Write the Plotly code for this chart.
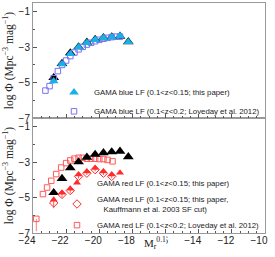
import plotly.graph_objects as go

# ---- data ----
mag_gama = [-22.75, -22.25, -21.75, -21.25, -20.75, -20.25, -19.75, -19.25, -18.75, -18.25]
phi_all = [-4.72, -3.92, -3.32, -2.98, -2.72, -2.56, -2.47, -2.42, -2.38, -2.69]
err_all = [0.12, 0.06, 0.05, 0.04, 0.04, 0.04, 0.04, 0.04, 0.05, 0.12]
phi_blue = [-4.92, -3.96, -3.38, -3.00, -2.75, -2.58, -2.48, -2.43, -2.37, -2.70]
err_blue = [0.15, 0.07, 0.05, 0.04, 0.04, 0.04, 0.04, 0.04, 0.05, 0.12]

mag_red = [-22.75, -22.25, -21.75, -21.25, -20.75, -20.25, -19.75, -19.25, -18.75]
phi_red = [-5.12, -4.72, -4.50, -3.70, -3.52, -3.33, -3.52, -3.70, -3.60]
mag_red_k03 = [-22.75, -22.25, -21.75, -21.25, -20.75, -20.25, -19.75, -19.25]
phi_red_k03 = [-5.30, -4.82, -4.60, -3.80, -3.62, -3.42, -3.62, -3.80]
err_red_k03 = [0.30, 0.18, 0.15, 0.12, 0.10, 0.10, 0.10, 0.10]

mag_lov_blue = [-23.25, -23.0, -22.75, -22.5, -22.25, -22.0, -21.75, -21.5, -21.25, -21.0,
                -20.75, -20.5, -20.25, -20.0, -19.75, -19.5, -19.25, -19.0, -18.75]
phi_lov_blue = [-5.45, -5.20, -4.75, -4.35, -4.00, -3.75, -3.50, -3.30, -3.12, -2.98,
                -2.85, -2.75, -2.66, -2.58, -2.52, -2.47, -2.43, -2.40, -2.40]

mag_lov_red = [-23.8, -23.4, -23.15, -22.9, -22.6, -22.3, -22.0, -21.75, -21.5, -21.25,
               -21.0, -20.75, -20.5, -20.25, -20.0, -19.75, -19.5, -19.2]
phi_lov_red = [-6.20, -4.80, -4.43, -4.05, -3.67, -3.30, -3.05, -2.90, -2.80, -2.75,
               -2.75, -2.80, -2.80, -2.80, -2.82, -2.82, -2.87, -2.95]
errlo_lov_red = [0.70] + [0.0] * 17

x_range = [-24, -10]
y_range = [-7, -0.5]
x_ticks = [-24, -22, -20, -18, -16, -14, -12, -10]
y_ticks = [-7, -5, -3, -1]

# ---- colours ----
C_CYAN = "#16b2e6"
C_BLUE_SQ = "#7a72f0"
C_RED = "#ff2b2b"
C_RED_SQ = "#ff5a5a"

fig = go.Figure()

# top panel (blue)
fig.add_trace(go.Scatter(x=mag_gama, y=phi_all, mode="markers", xaxis="x2", yaxis="y2",
                         marker=dict(symbol="triangle-up", size=9.5, color="black"),
                         error_y=dict(type="data", array=err_all, color="black", thickness=0.8, width=0),
                         showlegend=False, name="GAMA all"))
fig.add_trace(go.Scatter(x=mag_lov_blue, y=phi_lov_blue, mode="markers", xaxis="x2", yaxis="y2",
                         marker=dict(symbol="square-open", size=5.5, color=C_BLUE_SQ, line=dict(width=1)),
                         name="GAMA blue LF (0.1<z<0.2; Loveday et al. 2012)", legend="legend"))
fig.add_trace(go.Scatter(x=mag_gama, y=phi_blue, mode="markers", xaxis="x2", yaxis="y2",
                         marker=dict(symbol="triangle-up", size=8.5, color=C_CYAN),
                         error_y=dict(type="data", array=err_blue, color=C_CYAN, thickness=0.8, width=0),
                         name="GAMA blue LF (0.1<z<0.15; this paper)", legend="legend"))

# bottom panel (red)
fig.add_trace(go.Scatter(x=mag_lov_red, y=phi_lov_red, mode="markers", xaxis="x", yaxis="y",
                         marker=dict(symbol="square-open", size=5.5, color=C_RED_SQ, line=dict(width=1)),
                         error_y=dict(type="data", symmetric=False, array=[0.0] * len(mag_lov_red),
                                      arrayminus=errlo_lov_red, color=C_RED_SQ, thickness=0.8, width=0),
                         name="GAMA red LF (0.1<z<0.2; Loveday et al. 2012)", legend="legend2",
                         legendrank=3))
fig.add_trace(go.Scatter(x=mag_gama, y=phi_all, mode="markers", xaxis="x", yaxis="y",
                         marker=dict(symbol="triangle-up", size=9.5, color="black"),
                         error_y=dict(type="data", array=err_all, color="black", thickness=0.8, width=0),
                         showlegend=False, name="GAMA all"))
fig.add_trace(go.Scatter(x=mag_red, y=phi_red, mode="markers", xaxis="x", yaxis="y",
                         marker=dict(symbol="triangle-up", size=7, color=C_RED),
                         name="GAMA red LF (0.1<z<0.15; this paper)", legend="legend2", legendrank=1))
fig.add_trace(go.Scatter(x=mag_red_k03, y=phi_red_k03, mode="markers", xaxis="x", yaxis="y",
                         marker=dict(symbol="diamond-open", size=6.5, color=C_RED, line=dict(width=1)),
                         error_y=dict(type="data", array=err_red_k03, color=C_RED, thickness=0.8, width=0),
                         name="GAMA red LF (0.1<z<0.15; this paper,<br>\u00a0\u00a0\u00a0Kauffmann et al. 2003 SF cut)",
                         legend="legend2", legendrank=2))

tick_font = dict(family="Liberation Sans, Arial, sans-serif", size=10, color="#222")
axis_common = dict(range=x_range, tickmode="array", tickvals=x_ticks,
                   ticktext=[f"\u2212{abs(v)}" for v in x_ticks],
                   ticks="inside", ticklen=4, tickcolor="#555", tickwidth=0.8,
                   minor=dict(dtick=0.5, ticks="inside", ticklen=2, tickcolor="#555", tickwidth=0.6),
                   showline=True, linecolor="#999", linewidth=1, mirror=True,
                   showgrid=False, zeroline=False)
yaxis_common = dict(range=y_range, tickmode="array", tickvals=y_ticks,
                    ticktext=[f"\u2212{abs(v)}" for v in y_ticks],
                    ticks="inside", ticklen=4, tickcolor="#555", tickwidth=0.8,
                    minor=dict(dtick=1, ticks="inside", ticklen=2, tickcolor="#555", tickwidth=0.6),
                    showline=True, linecolor="#999", linewidth=1, mirror=True,
                    showgrid=False, zeroline=False, tickfont=tick_font,
                    title=dict(text="log \u03a6 (Mpc<sup>\u22123</sup> mag<sup>\u22121</sup>)",
                               font=dict(family="Liberation Serif, Times New Roman, serif", size=11.5,
                                         color="#222"),
                               standoff=2))

legend_font = dict(family="Liberation Sans, Arial, sans-serif", size=7.8, color="#222")

fig.update_layout(
    width=275, height=257,
    margin=dict(l=33, r=10, t=3, b=24),
    paper_bgcolor="white", plot_bgcolor="white",
    xaxis=dict(domain=[0, 1], anchor="y", tickfont=tick_font, ticklabelshift=-6,
               ticklabelstandoff=-2, **axis_common),
    yaxis=dict(domain=[0, 0.5], anchor="x", **yaxis_common),
    xaxis2=dict(domain=[0, 1], anchor="y2", matches="x", showticklabels=False, **axis_common),
    yaxis2=dict(domain=[0.5, 1], anchor="x2", **yaxis_common),
    legend=dict(x=1, xanchor="right", y=0.466, yanchor="bottom", font=legend_font,
                bgcolor="rgba(0,0,0,0)", traceorder="reversed", itemwidth=30),
    legend2=dict(x=1, xanchor="right", y=-0.032, yanchor="bottom", font=legend_font,
                 bgcolor="rgba(0,0,0,0)", traceorder="normal", itemwidth=30),
    annotations=[dict(text="M<sub>r</sub><sup>0.1</sup>", xref="paper", yref="paper",
                      x=0.5, y=0, xanchor="center", yanchor="top", yshift=-1, xshift=6,
                      showarrow=False, bgcolor="white", borderpad=0,
                      font=dict(family="Liberation Serif, Times New Roman, serif", size=11, color="#222"))],
)

fig.write_html("out.html", config={"displayModeBar": False},
               post_script="document.body.style.margin='0px';document.body.style.padding='0px';")
